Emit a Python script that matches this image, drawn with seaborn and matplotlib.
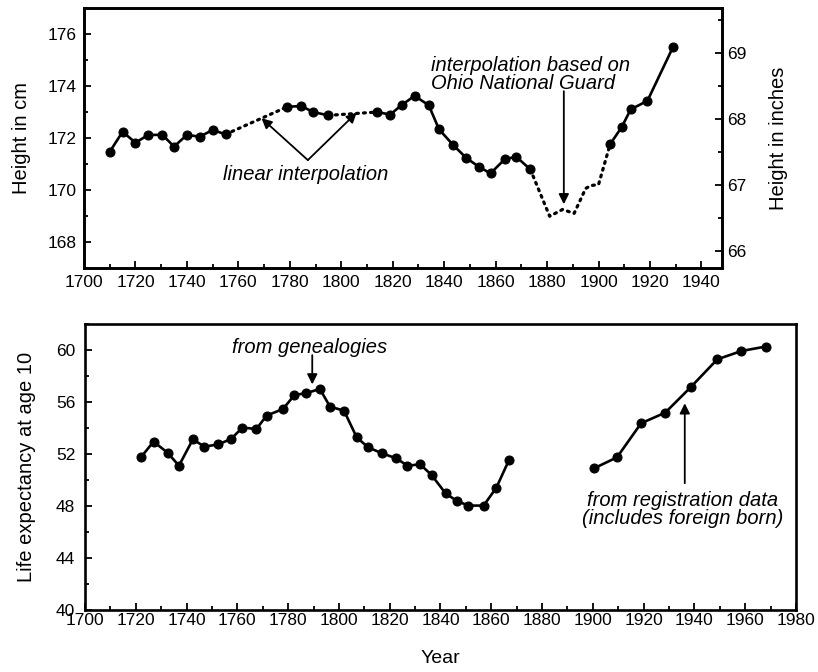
import matplotlib
matplotlib.use("Agg")
import matplotlib.pyplot as plt
import seaborn as sns
import pandas as pd
from matplotlib.ticker import MultipleLocator

# --------------------------------------------------------------
# Data
# --------------------------------------------------------------
# Height (cm), solid segments
h_years_a = [1710, 1715, 1720, 1725, 1730.5, 1735, 1740, 1745, 1750, 1755]
h_cm_a = [171.47, 172.24, 171.82, 172.12, 172.12, 171.67, 172.12, 172.05, 172.31, 172.14]
h_years_b = [1779, 1784.5, 1789, 1795]
h_cm_b = [173.20, 173.23, 173.00, 172.87]
h_years_c = [1814, 1819, 1823.5, 1828.5, 1834, 1838, 1843.5, 1848.5, 1853.5, 1858, 1863.5, 1868, 1873.5]
h_cm_c = [173.00, 172.90, 173.27, 173.62, 173.26, 172.33, 171.73, 171.24, 170.89, 170.64, 171.18, 171.28, 170.79]
h_years_d = [1904.5, 1909, 1912.5, 1919, 1929]
h_cm_d = [171.76, 172.42, 173.10, 173.43, 175.51]
# Ohio National Guard interpolation (dotted)
ohio_years = [1873.5, 1881, 1886, 1890.5, 1895, 1897, 1900, 1904.5]
ohio_cm = [170.79, 168.99, 169.25, 169.10, 170.06, 170.17, 170.21, 171.76]

# Life expectancy at age 10
gen_years = [1722, 1727, 1732.5, 1737, 1742.5, 1747, 1752.5, 1757.5, 1762, 1767.5,
             1771.5, 1778, 1782.5, 1787, 1792.5, 1796.5, 1802, 1807, 1811.5, 1817,
             1822.5, 1827, 1832, 1836.5, 1842, 1846.5, 1851, 1857, 1862, 1867]
gen_le = [51.74, 52.95, 52.10, 51.10, 53.13, 52.56, 52.74, 53.15, 54.03, 53.92,
          54.95, 55.46, 56.54, 56.67, 57.00, 55.64, 55.33, 53.28, 52.51, 52.05,
          51.67, 51.10, 51.20, 50.38, 48.97, 48.38, 48.03, 48.03, 49.41, 51.54]
reg_years = [1900.5, 1909.5, 1919, 1928.5, 1938.5, 1949, 1958.5, 1968]
reg_le = [50.90, 51.74, 54.36, 55.18, 57.13, 59.28, 59.92, 60.26]

CM_PER_INCH = 2.54

sns.set_style("ticks")
plt.rcParams["font.family"] = ["Liberation Sans", "DejaVu Sans"]
plt.rcParams["text.color"] = "black"
plt.rcParams["axes.labelcolor"] = "black"

fig = plt.figure(figsize=(8.18, 6.72), dpi=100)
ax1 = fig.add_axes([0.1027, 0.6012, 0.780, 0.3869])
ax2 = fig.add_axes([0.1039, 0.0923, 0.8692, 0.4256])

solid = dict(color="black", linewidth=1.9, marker="o", markersize=6.5,
             markeredgecolor="black", estimator=None, sort=False, legend=False)
dotted = dict(color="black", linewidth=2.3, linestyle=(0, (0.6, 1.6)),
              dash_capstyle="round", estimator=None, sort=False, legend=False)
arrow = dict(arrowstyle="-|>", color="black", lw=1.3, mutation_scale=15, shrinkA=0, shrinkB=0)

# --------------------------------------------------------------
# Top panel: height
# --------------------------------------------------------------
for yrs, vals in [(h_years_a, h_cm_a), (h_years_b, h_cm_b),
                  (h_years_c, h_cm_c), (h_years_d, h_cm_d)]:
    sns.lineplot(data=pd.DataFrame({"year": yrs, "cm": vals}), x="year", y="cm", ax=ax1, **solid)

# linear interpolations between the gaps
for (y0, v0), (y1, v1) in [((h_years_a[-1], h_cm_a[-1]), (h_years_b[0], h_cm_b[0])),
                           ((h_years_b[-1], h_cm_b[-1]), (h_years_c[0], h_cm_c[0]))]:
    sns.lineplot(x=[y0, y1], y=[v0, v1], ax=ax1, **dotted)
sns.lineplot(x=ohio_years, y=ohio_cm, ax=ax1, **dotted)

ax1.set_xlim(1700, 1948)
ax1.set_ylim(167, 177)
ax1.set_xticks(range(1700, 1941, 20))
ax1.xaxis.set_minor_locator(MultipleLocator(10))
ax1.set_yticks(range(168, 177, 2))
ax1.yaxis.set_minor_locator(MultipleLocator(1))
ax1.set_xlabel("")
ax1.set_ylabel("Height in cm", fontsize=14.5, labelpad=12)

ax1r = ax1.twinx()
ax1r.set_ylim(167 / CM_PER_INCH, 177 / CM_PER_INCH)
ax1r.set_yticks([66, 67, 68, 69])
ax1r.yaxis.set_minor_locator(MultipleLocator(0.5))
ax1r.set_ylabel("Height in inches", fontsize=14.5, labelpad=16)

ax1.annotate("", xy=(1769, 172.76), xytext=(1787, 171.15), arrowprops=arrow)
ax1.annotate("", xy=(1806, 172.98), xytext=(1787, 171.15), arrowprops=arrow)
ax1.text(1786, 170.6, "linear interpolation", fontsize=14.5, style="italic",
         ha="center", va="center")
ax1.text(1835, 174.45, "interpolation based on\nOhio National Guard", fontsize=14.5,
         style="italic", ha="left", va="center", linespacing=0.95)
ax1.annotate("", xy=(1886.5, 169.45), xytext=(1886.5, 173.8), arrowprops=arrow)

# --------------------------------------------------------------
# Bottom panel: life expectancy
# --------------------------------------------------------------
sns.lineplot(data=pd.DataFrame({"year": gen_years, "le": gen_le}), x="year", y="le", ax=ax2, **solid)
sns.lineplot(data=pd.DataFrame({"year": reg_years, "le": reg_le}), x="year", y="le", ax=ax2, **solid)

ax2.set_xlim(1700, 1980)
ax2.set_ylim(40, 62)
ax2.set_xticks(range(1700, 1981, 20))
ax2.xaxis.set_minor_locator(MultipleLocator(10))
ax2.set_yticks(range(40, 61, 4))
ax2.yaxis.set_minor_locator(MultipleLocator(2))
ax2.set_xlabel("Year", fontsize=14, labelpad=16)
ax2.set_ylabel("Life expectancy at age 10", fontsize=14.5, labelpad=14)

ax2.text(1788.5, 60.2, "from genealogies", fontsize=14.5, style="italic",
         ha="center", va="center")
ax2.annotate("", xy=(1789.5, 57.35), xytext=(1789.5, 59.6), arrowprops=arrow)
ax2.text(1935.5, 47.7, "from registration data\n(includes foreign born)", fontsize=14.5,
         style="italic", ha="center", va="center", linespacing=0.95)
ax2.annotate("", xy=(1936.2, 55.9), xytext=(1936.2, 49.75), arrowprops=arrow)

# --------------------------------------------------------------
# Frame and tick styling
# --------------------------------------------------------------
for ax in (ax1, ax1r, ax2):
    for sp in ax.spines.values():
        sp.set_visible(True)
        sp.set_linewidth(1.9)
        sp.set_color("black")
    ax.tick_params(which="both", direction="in", colors="black", labelsize=12.5, width=1.3)
    ax.tick_params(which="major", length=5)
    ax.tick_params(which="minor", length=3)

ax1.tick_params(axis="x", pad=5)
ax1.tick_params(axis="y", pad=5, right=False)
ax1r.tick_params(axis="y", pad=4)
ax2.tick_params(axis="x", pad=2)
ax2.tick_params(axis="y", pad=7)

fig.savefig("out.png", dpi=100)
